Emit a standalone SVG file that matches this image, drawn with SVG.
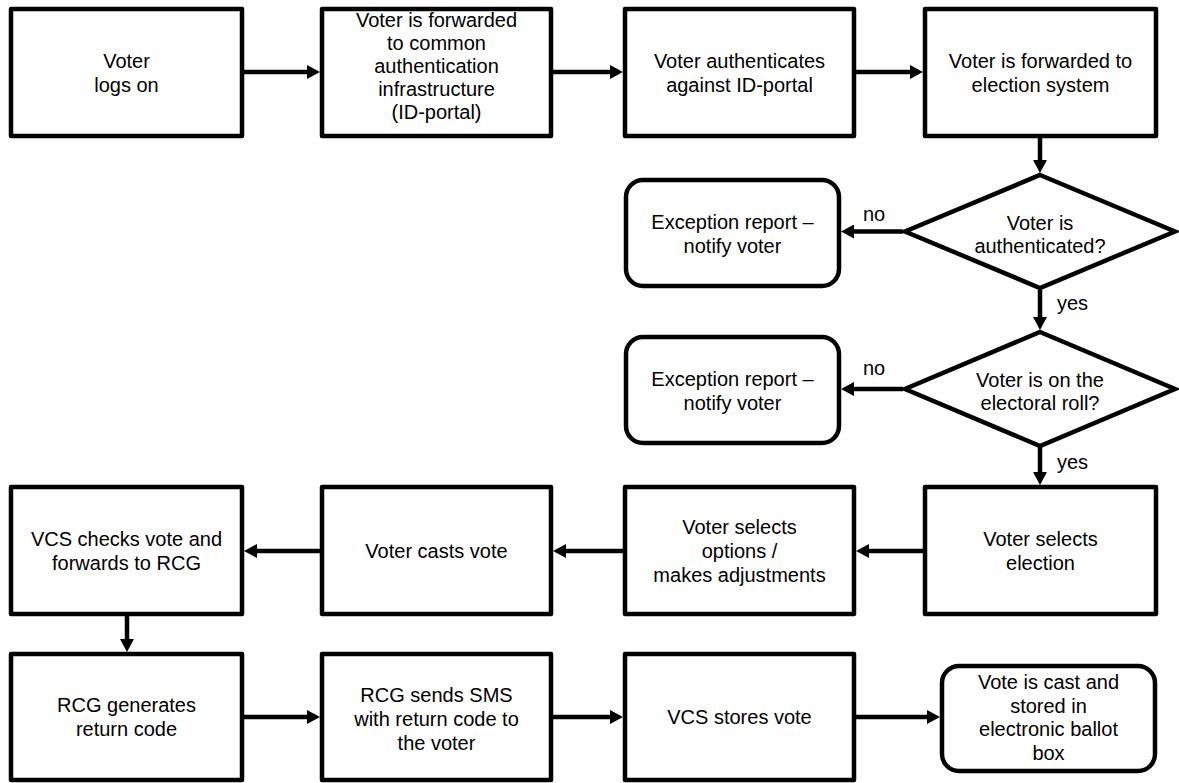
<svg xmlns="http://www.w3.org/2000/svg" width="1179" height="783" viewBox="0 0 1179 783">
<style>
.box{fill:#fff;stroke:#000;stroke-width:4.5;stroke-linejoin:round}
.term{fill:#fff;stroke:#000;stroke-width:4.5}
.dia{fill:#fff;stroke:#000;stroke-width:4.5;stroke-linejoin:miter}
.t{font-family:"Liberation Sans",Arial,sans-serif;font-size:20px;fill:#000;text-anchor:middle}
.lbl{font-family:"Liberation Sans",Arial,sans-serif;font-size:20px;fill:#000}
.c{stroke:#000;stroke-width:4.5;fill:none;marker-end:url(#ah)}
</style>
<defs>
<marker id="ah" markerUnits="userSpaceOnUse" markerWidth="13" markerHeight="14" refX="0" refY="7" orient="auto">
<path d="M0,0 L13,7 L0,14 z" fill="#000"/>
</marker>
</defs>
<rect width="1179" height="783" fill="#fff"/>
<g id="connectors">
<line class="c" x1="244" y1="72" x2="307" y2="72"/>
<line class="c" x1="553" y1="72" x2="610" y2="72"/>
<line class="c" x1="856" y1="72" x2="910" y2="72"/>
<line class="c" x1="1040" y1="138" x2="1040" y2="160"/>
<line class="c" x1="903" y1="231.5" x2="854" y2="231.5"/>
<line class="c" x1="1040" y1="290" x2="1040" y2="317"/>
<line class="c" x1="903" y1="389" x2="854" y2="389"/>
<line class="c" x1="1040" y1="446" x2="1040" y2="472"/>
<line class="c" x1="923" y1="551" x2="869" y2="551"/>
<line class="c" x1="623" y1="551" x2="566" y2="551"/>
<line class="c" x1="320" y1="551" x2="257" y2="551"/>
<line class="c" x1="127" y1="616" x2="127" y2="639"/>
<line class="c" x1="244" y1="717" x2="307" y2="717"/>
<line class="c" x1="553" y1="717" x2="610" y2="717"/>
<line class="c" x1="856" y1="717" x2="927" y2="717"/>
<text class="lbl" x="863" y="221">no</text>
<text class="lbl" x="863" y="375">no</text>
<text class="lbl" x="1057" y="310">yes</text>
<text class="lbl" x="1057" y="469">yes</text>
</g>
<g id="n1"><rect class="box" x="11" y="9" width="231" height="127"/>
<text class="t" x="126.5" y="68">Voter</text><text class="t" x="126.5" y="92">logs on</text></g>
<g id="n2"><rect class="box" x="322" y="9" width="229" height="127"/>
<text class="t" x="436.5" y="27">Voter is forwarded</text><text class="t" x="436.5" y="50">to common</text><text class="t" x="436.5" y="73">authentication</text><text class="t" x="436.5" y="96">infrastructure</text><text class="t" x="436.5" y="119">(ID-portal)</text></g>
<g id="n3"><rect class="box" x="625" y="9" width="229" height="127"/>
<text class="t" x="739.5" y="68">Voter authenticates</text><text class="t" x="739.5" y="92">against ID-portal</text></g>
<g id="n4"><rect class="box" x="925" y="9" width="231" height="127"/>
<text class="t" x="1040.5" y="68">Voter is forwarded  to</text><text class="t" x="1040.5" y="92">election system</text></g>
<g id="d1"><polygon class="dia" points="1040,175 1175,231.5 1040,288 905,231.5"/>
<text class="t" x="1040" y="230">Voter is</text><text class="t" x="1040" y="253">authenticated?</text></g>
<g id="e1"><rect class="term" x="626" y="180" width="213" height="106" rx="17"/>
<text class="t" x="732.5" y="229">Exception report –</text><text class="t" x="732.5" y="253">notify voter</text></g>
<g id="d2"><polygon class="dia" points="1040,332 1175,389 1040,446 905,389"/>
<text class="t" x="1040" y="387">Voter is on the</text><text class="t" x="1040" y="410">electoral roll?</text></g>
<g id="e2"><rect class="term" x="626" y="337" width="213" height="106" rx="17"/>
<text class="t" x="732.5" y="386">Exception report –</text><text class="t" x="732.5" y="410">notify voter</text></g>
<g id="n5"><rect class="box" x="925" y="487" width="231" height="127"/>
<text class="t" x="1040.5" y="546">Voter selects</text><text class="t" x="1040.5" y="570">election</text></g>
<g id="n6"><rect class="box" x="625" y="487" width="229" height="127"/>
<text class="t" x="739.5" y="534">Voter selects</text><text class="t" x="739.5" y="558">options /</text><text class="t" x="739.5" y="582">makes adjustments</text></g>
<g id="n7"><rect class="box" x="322" y="487" width="229" height="127"/>
<text class="t" x="436.5" y="558">Voter casts vote</text></g>
<g id="n8"><rect class="box" x="11" y="487" width="231" height="127"/>
<text class="t" x="126.5" y="546">VCS checks vote  and</text><text class="t" x="126.5" y="570">forwards  to RCG</text></g>
<g id="n9"><rect class="box" x="11" y="654" width="231" height="126"/>
<text class="t" x="126.5" y="712">RCG generates</text><text class="t" x="126.5" y="736">return code</text></g>
<g id="n10"><rect class="box" x="322" y="654" width="229" height="126"/>
<text class="t" x="436.5" y="702">RCG sends SMS</text><text class="t" x="436.5" y="726">with return code to</text><text class="t" x="436.5" y="750">the voter</text></g>
<g id="n11"><rect class="box" x="625" y="654" width="229" height="126"/>
<text class="t" x="739.5" y="724">VCS stores vote</text></g>
<g id="n12"><rect class="term" x="942" y="666" width="213" height="105" rx="17"/>
<text class="t" x="1048.5" y="689">Vote is cast and</text><text class="t" x="1048.5" y="713">stored in</text><text class="t" x="1048.5" y="736">electronic ballot</text><text class="t" x="1048.5" y="760">box</text></g>
</svg>
